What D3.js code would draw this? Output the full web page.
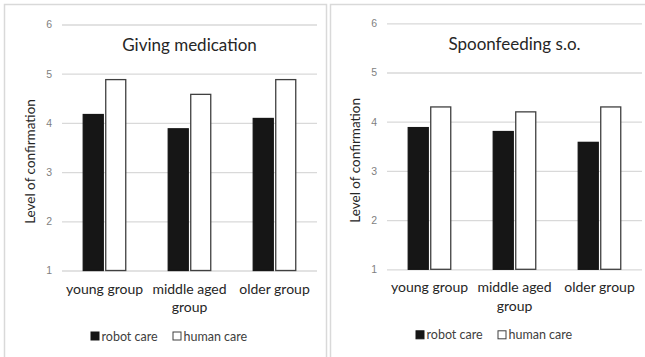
<!DOCTYPE html>
<html><head><meta charset="utf-8">
<script src="https://cdn.jsdelivr.net/npm/d3@7"></script>
<style>
html,body{margin:0;padding:0;background:#fff;}
svg{display:block;font-family:Lato,"Open Sans",sans-serif;}
</style></head>
<body><svg id="c" width="645" height="357"></svg>
<script>
const categories = ["young group", "middle aged group", "older group"];
const seriesNames = ["robot care", "human care"];
const medicationRobot = [4.17, 3.88, 4.09];
const medicationHuman = [4.88, 4.58, 4.88];
const spoonRobot = [3.88, 3.8, 3.58];
const spoonHuman = [4.3, 4.2, 4.3];
const yTicks = [1, 2, 3, 4, 5, 6];
const titles = ["Giving medication", "Spoonfeeding s.o."];

const svg = d3.select("#c");
const fills = ["#161616", "#ffffff"];
const strokes = ["#161616", "#404040"];

const panels = [
  {title: titles[0], data: [medicationRobot, medicationHuman], bx0: 4.5, bx1: 326.5, x0: 62, x1: 317, yTop: 24.5, yBot: 270.5, titleY: 51, ylabX: 35},
  {title: titles[1], data: [spoonRobot, spoonHuman], bx0: 330.5, bx1: 700, x0: 387, x1: 642, yTop: 23.3, yBot: 269.3, titleY: 50, ylabX: 360}
];

panels.forEach(p => {
  svg.append("path")
    .attr("d", `M${p.bx0},400 V4.5 H${p.bx1} V400`)
    .attr("fill", "none").attr("stroke", "#d9d9d9").attr("stroke-width", 1.5);

  const y = d3.scaleLinear().domain([1, 6]).range([p.yBot, p.yTop]);
  const x = d3.scaleBand().domain(categories).range([p.x0, p.x1]).paddingInner(0.5).paddingOuter(0.25);
  const xs = d3.scaleBand().domain(seriesNames).range([0, x.bandwidth()]).paddingInner(0.11);

  const g = svg.append("g");
  const yAxis = d3.axisLeft(y).tickValues(yTicks).tickSize(-(p.x1 - p.x0)).tickFormat(d3.format("d")).tickPadding(10);
  const ya = g.append("g").attr("transform", `translate(${p.x0},0)`).call(yAxis);
  ya.select(".domain").remove();
  ya.selectAll(".tick line").attr("stroke", "#d9d9d9").attr("stroke-width", 1.3);
  ya.selectAll(".tick text").attr("fill", "#7f7f7f").attr("font-size", 10.5);

  seriesNames.forEach((s, si) => {
    g.append("g").selectAll("rect").data(p.data[si]).join("rect")
      .attr("x", (d, i) => x(categories[i]) + xs(s))
      .attr("width", xs.bandwidth())
      .attr("y", d => y(d))
      .attr("height", d => y(1) - y(d))
      .attr("fill", fills[si])
      .attr("stroke", strokes[si])
      .attr("stroke-width", 1.3);
  });

  g.append("text").attr("x", (p.x0 + p.x1) / 2).attr("y", p.titleY)
    .attr("text-anchor", "middle").attr("font-size", 17).attr("fill", "#262626").text(p.title);

  g.append("text").attr("transform", `translate(${p.ylabX},${(p.yTop + p.yBot) / 2 + 14}) rotate(-90)`)
    .attr("text-anchor", "middle").attr("font-size", 13.5).attr("fill", "#262626").text("Level of confirmation");

  const xl = g.append("g").selectAll("text").data(categories).join("text")
    .attr("x", d => x(d) + x.bandwidth() / 2).attr("y", p.yBot + 23)
    .attr("text-anchor", "middle").attr("font-size", 14).attr("fill", "#262626");
  xl.each(function(d) {
    const t = d3.select(this);
    if (d === "middle aged group") {
      t.append("tspan").attr("x", x(d) + x.bandwidth() / 2).attr("dy", 0).text("middle aged");
      t.append("tspan").attr("x", x(d) + x.bandwidth() / 2).attr("dy", 18.5).text("group");
    } else {
      t.text(d);
    }
  });

  const ly = p.yBot + 70;
  const lx = [p.x0 + 29, p.x0 + 111];
  seriesNames.forEach((s, si) => {
    g.append("rect").attr("x", lx[si]).attr("y", ly - 8.5).attr("width", 8).attr("height", 8)
      .attr("fill", fills[si]).attr("stroke", strokes[si]).attr("stroke-width", 1);
    g.append("text").attr("x", lx[si] + 10.5).attr("y", ly).attr("font-size", 12.5).attr("fill", "#404040").text(s);
  });
});
</script></body></html>
